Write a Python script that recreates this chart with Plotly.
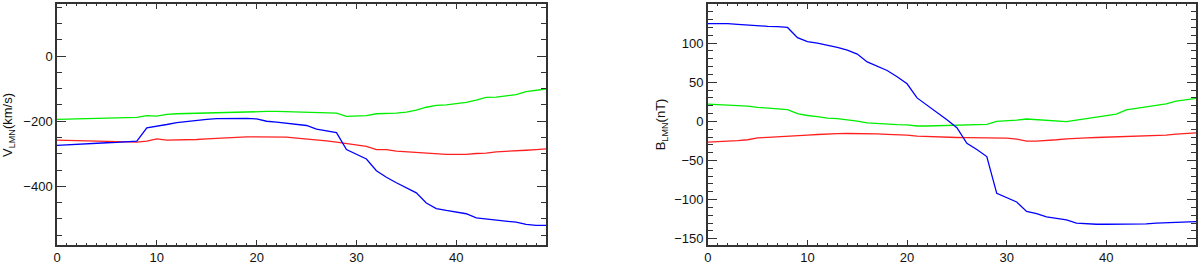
import plotly.graph_objects as go

t = list(range(50))

# Left panel: velocity components (km/s)
v_blue = [-274, -272, -271, -269, -268, -266, -265, -263, -261, -220,
          -216, -210, -204, -200, -197, -194, -192, -191, -191, -191,
          -193, -200, -203, -206, -209, -213, -224, -230, -235, -287,
          -301, -316, -352, -372, -389, -405, -420, -451, -468, -474,
          -479, -484, -497, -500, -505, -507, -510, -517, -520, -520]
v_green = [-194, -194, -193, -192, -191, -191, -190, -189, -188, -183,
           -184, -179, -177, -176, -175, -174, -173, -172, -171, -170,
           -170, -170, -170, -171, -171, -172, -173, -174, -175, -185,
           -185, -183, -177, -177, -175, -172, -166, -157, -151, -150,
           -147, -142, -135, -127, -126, -122, -118, -109, -105, -101]
v_red = [-258, -259, -260, -261, -262, -263, -263, -264, -264, -261,
         -254, -258, -258, -257, -256, -254, -252, -250, -249, -248,
         -248, -248, -248, -249, -252, -254, -258, -260, -264, -268,
         -271, -277, -287, -287, -292, -294, -297, -300, -301, -302,
         -302, -302, -299, -298, -294, -293, -292, -289, -287, -285]

# Right panel: magnetic field components (nT)
b_blue = [125, 125, 125, 124, 123, 122, 121.5, 121, 120, 107,
          102, 100, 97.5, 94.5, 91, 86, 76, 71, 65, 57,
          48, 30, 21, 12, 2, -8, -28, -36, -45, -92,
          -97, -103, -115, -118, -122, -124, -126, -130, -131, -131.5,
          -131.5, -131.5, -131.5, -131, -131, -130, -129.5, -129, -128, -128]
b_green = [22, 21.5, 21, 20, 19.5, 18, 17, 16, 15, 10,
           7.5, 6, 4.2, 3.4, 2, 0.4, -2, -3, -3.4, -4.2,
           -4.6, -5.9, -5.9, -5.5, -5, -4.6, -4.2, -4, -3.8, 0,
           0.4, 1.7, 3, 2.1, 1.7, 0.4, -0.4, 1.7, 3.8, 5.5,
           7.1, 9.2, 14.7, 16.8, 18.9, 20.6, 22.3, 26, 27.7, 29.4]
b_red = [-26.4, -26, -25.3, -24.5, -23.5, -21, -20.5, -20, -19.3, -18.5,
         -17.6, -16.8, -16, -15.7, -15.5, -15.5, -15.5, -16, -16.6, -17,
         -17.6, -18.9, -19.5, -19.7, -20.2, -20.6, -20.8, -21, -21, -21.2,
         -21.4, -22.7, -25.2, -25.2, -24.8, -23.5, -22.3, -21.4, -21, -20.6,
         -20.2, -19.8, -19.3, -18.9, -18.5, -18, -17.6, -16.4, -15.5, -14.7]

x_ticks = [0, 10, 20, 30, 40]
v_ticks = [0, -200, -400]
b_ticks = [100, 50, 0, -50, -100, -150]

fig = go.Figure()
lw = 1.3
for y, c in [(v_green, "#00ee00"), (v_red, "#ff2020"), (v_blue, "#0000ff")]:
    fig.add_trace(go.Scatter(x=t, y=y, mode="lines", line=dict(color=c, width=lw),
                             xaxis="x", yaxis="y", showlegend=False))
for y, c in [(b_green, "#00ee00"), (b_red, "#ff2020"), (b_blue, "#0000ff")]:
    fig.add_trace(go.Scatter(x=t, y=y, mode="lines", line=dict(color=c, width=lw),
                             xaxis="x2", yaxis="y2", showlegend=False))

font = dict(family="Liberation Sans, Arial, sans-serif", size=13, color="#111")
common = dict(showgrid=False, zeroline=False, showline=True, linecolor="#333",
              linewidth=1.5, mirror="allticks", ticks="inside",
              tickwidth=1.2, tickcolor="#333", tickfont=font)

def minus(vals):
    return ["\u2212" + str(-v) if v < 0 else str(v) for v in vals]

fig.update_layout(
    width=1200, height=267,
    margin=dict(l=57, r=2, t=3, b=21),
    paper_bgcolor="white", plot_bgcolor="white",
    xaxis=dict(domain=[0, 0.4294], range=[0, 49], tickvals=x_ticks, ticklen=5,
               minor=dict(ticks="inside", ticklen=2.5, dtick=1, tickcolor="#333"),
               anchor="y", **common),
    yaxis=dict(range=[-580, 160], tickvals=v_ticks, ticktext=minus(v_ticks), ticklen=9,
               minor=dict(ticks="inside", ticklen=5, dtick=50, tickcolor="#333"),
               anchor="x", **common),
    xaxis2=dict(domain=[0.5714, 1], range=[0, 49], tickvals=x_ticks, ticklen=5,
                minor=dict(ticks="inside", ticklen=2.5, dtick=1, tickcolor="#333"),
                anchor="y2", **common),
    yaxis2=dict(range=[-158, 150], tickvals=b_ticks, ticktext=minus(b_ticks), ticklen=9,
                minor=dict(ticks="inside", ticklen=5, dtick=10, tickcolor="#333"),
                anchor="x2", **common),
    annotations=[
        dict(text="V<sub>LMN</sub>(km/s)", xref="paper", yref="paper",
             x=-0.0426, y=0.5, textangle=-90, showarrow=False,
             xanchor="center", yanchor="middle", font=font),
        dict(text="B<sub>LMN</sub>(nT)", xref="paper", yref="paper",
             x=0.531, y=0.5, textangle=-90, showarrow=False,
             xanchor="center", yanchor="middle", font=font),
    ],
)

fig.write_html("out.html", config={"displayModeBar": False},
               post_script="document.body.style.margin='0';document.body.style.padding='0';")
